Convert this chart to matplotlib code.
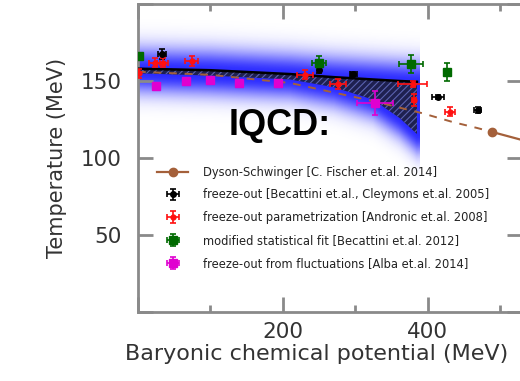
import numpy as np
import matplotlib
matplotlib.use("Agg")
import matplotlib.pyplot as plt
from matplotlib.ticker import FixedLocator

# lattice QCD band (hatched region), mu_B in MeV
band_mu = [0, 100, 210, 270, 324, 361, 385]
band_upper = [158, 157, 154.5, 152.5, 151, 150, 149.5]
band_lower = [155, 153.5, 151, 146, 138, 126, 115.6]

# Dyson-Schwinger curve
ds_mu = [0, 100, 210, 324, 393, 434, 468, 488]
ds_T = [156, 154, 148.7, 137, 129, 123.4, 119.5, 117]
ds_tail_mu = [488, 530]
ds_tail_T = [117, 111.7]

# freeze-out [Becattini, Cleymons]
fo_mu = [33, 250, 297, 414, 469]
fo_T = [167.5, 157, 154.5, 139.6, 131]
fo_xerr = [6, 2, 5, 8, 5]
fo_yerr = [3.3, 1.5, 1.5, 1.5, 2]

# freeze-out parametrization [Andronic]
an_mu = [1, 23, 34, 74, 230, 276, 379, 381, 431]
an_T = [155, 162, 162, 163, 154, 148, 148, 137.7, 130]
an_xerr = [1, 8, 8, 9, 11, 11, 20, 3, 7]
an_yerr = [3, 3, 3, 3, 3, 3, 2, 4, 3]

# modified statistical fit [Becattini 2012]
ms_mu = [2, 250, 377, 427]
ms_T = [166, 162, 161, 156]
ms_xerr = [2, 10, 17, 2]
ms_yerr = [2, 4, 6, 6]

# freeze-out from fluctuations [Alba]
fl_mu = [25, 66, 99, 139, 193, 327]
fl_T = [147, 150, 150.6, 148.7, 148.5, 135.7]
fl_xerr = [0, 0, 0, 0, 0, 25]
fl_yerr = [0, 0, 0, 0, 0, 8]


def main():
    fig = plt.figure(figsize=(5.2, 3.81), dpi=100)
    ax = fig.add_axes([138 / 520, 69 / 381, 384 / 520, 308 / 381])
    ax.set_xlim(0, 530)
    ax.set_ylim(0, 200)

    # blue glow around the lattice band
    gx = np.linspace(0, band_mu[-1] + 4, 400)
    gy = np.linspace(50, 200, 500)
    GX, GY = np.meshgrid(gx, gy)
    up = np.interp(GX, band_mu, band_upper)
    lo = np.interp(GX, band_mu, band_lower)
    d_up = np.clip(GY - up, 0, None)
    d_lo = np.clip(lo - GY, 0, None)
    alpha = 0.92 * np.exp(-(d_up / 14.0) ** 2) * np.exp(-(d_lo / 13.0) ** 2)
    img = np.zeros(GX.shape + (4,))
    img[..., 0] = 0.1
    img[..., 1] = 0.1
    img[..., 2] = 1.0
    img[..., 3] = alpha
    ax.imshow(img, extent=[gx[0], gx[-1], gy[0], gy[-1]], origin="lower",
              aspect="auto", interpolation="bilinear", zorder=1)

    plt.rcParams["hatch.color"] = "#5a62b0"
    plt.rcParams["hatch.linewidth"] = 0.8
    ax.fill_between(band_mu, band_lower, band_upper, facecolor="#1e2050",
                    hatch="/////", linewidth=0, zorder=2)
    ax.plot(band_mu, band_upper, color="black", lw=1.8, zorder=3)

    ds_col = "#a4603a"
    ax.plot(ds_mu, ds_T, color=ds_col, lw=1.4, ls=(0, (4, 4)), zorder=3)
    ax.plot(ds_tail_mu, ds_tail_T, color=ds_col, lw=1.6, marker="o", ms=6,
            markevery=[0], zorder=3,
            label="Dyson-Schwinger [C. Fischer et.al. 2014]")

    ekw = dict(ls="none", capsize=2, elinewidth=1.2, capthick=1.2, zorder=4)
    ax.errorbar(fo_mu, fo_T, xerr=fo_xerr, yerr=fo_yerr, fmt="o", ms=4,
                color="black",
                label="freeze-out [Becattini et.al., Cleymons et.al. 2005]",
                **ekw)
    ax.errorbar(an_mu, an_T, xerr=an_xerr, yerr=an_yerr, fmt="o", ms=3.5,
                color="#ff1010",
                label="freeze-out parametrization [Andronic et.al. 2008]",
                **ekw)
    ax.errorbar(ms_mu, ms_T, xerr=ms_xerr, yerr=ms_yerr, fmt="s", ms=6,
                color="#006a00",
                label="modified statistical fit [Becattini et.al. 2012]",
                **ekw)
    ax.errorbar(fl_mu, fl_T, xerr=fl_xerr, yerr=fl_yerr, fmt="s", ms=6,
                color="#e000d0",
                label="freeze-out from fluctuations [Alba et.al. 2014]",
                **ekw)

    ax.text(196, 121, "IQCD:", fontsize=26, fontweight="bold",
            family="Liberation Sans", ha="center", va="center", zorder=6)

    leg = ax.legend(loc="upper left", bbox_to_anchor=(0.05, 0.475),
                    frameon=False, fontsize=8.3, handlelength=2.7,
                    handletextpad=1.3, labelspacing=0.85, borderpad=0,
                    borderaxespad=0)
    for t in leg.get_texts():
        t.set_color("#222222")

    # axes styling
    spine_col = "#8a8a8a"
    for s in ax.spines.values():
        s.set_color(spine_col)
        s.set_linewidth(2)
    ax.xaxis.set_major_locator(FixedLocator([0, 200, 400]))
    ax.xaxis.set_minor_locator(FixedLocator([100, 300, 500]))
    ax.yaxis.set_major_locator(FixedLocator([0, 50, 100, 150, 200]))
    ax.set_xticklabels(["", "200", "400"])
    ax.set_yticklabels(["", "50", "100", "150", ""])
    ax.tick_params(which="both", direction="in", top=True, right=True,
                   color=spine_col, width=2, labelsize=15.5,
                   labelcolor="#333333")
    ax.tick_params(axis="x", pad=7)
    ax.tick_params(axis="y", pad=12)
    ax.tick_params(which="major", length=11)
    ax.tick_params(which="minor", length=5)

    ax.set_xlabel("Baryonic chemical potential (MeV)", fontsize=16,
                  color="#333333")
    ax.xaxis.set_label_coords(0.466, -0.103)
    ax.set_ylabel("Temperature (MeV)", fontsize=15, color="#333333")
    ax.yaxis.set_label_coords(-0.185, 0.5)

    fig.savefig("out.png", dpi=100)


if __name__ == "__main__":
    main()
